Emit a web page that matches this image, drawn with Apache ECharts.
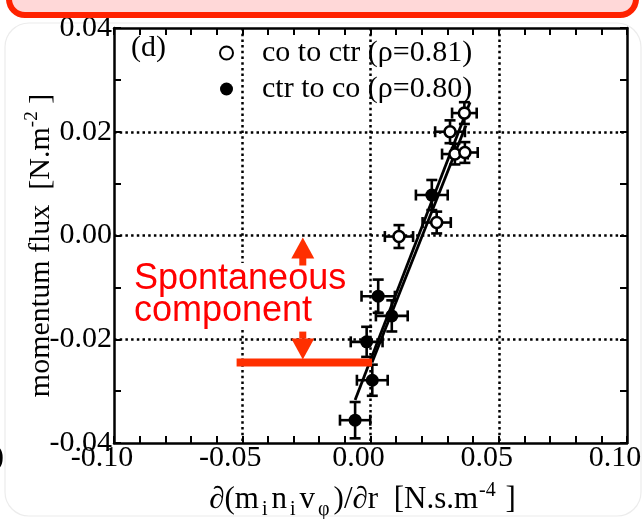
<!DOCTYPE html>
<html>
<head>
<meta charset="utf-8">
<script src="https://cdn.jsdelivr.net/npm/echarts/dist/echarts.min.js"></script>
<style>
  html, body { margin: 0; padding: 0; background: #fff; }
  #chart { width: 643px; height: 519px; }
</style>
</head>
<body>
<div id="chart"></div>
<script>
// ---- data ----
const seriesNames = ['co to ctr (\u03c1=0.81)', 'ctr to co (\u03c1=0.80)'];

// open circles: co to ctr
const coToCtrX    = [0.0366, 0.0310, 0.0329, 0.0368, 0.0258, 0.0111];
const coToCtrY    = [0.0236, 0.0200, 0.0157, 0.0160, 0.0025, -0.0002];
const coToCtrXErr = [0.0048, 0.0058, 0.0050, 0.0050, 0.0055, 0.0055];
const coToCtrYErr = [0.0021, 0.0022, 0.0020, 0.0020, 0.0021, 0.0022];

// filled circles: ctr to co
const ctrToCoX    = [0.0239, 0.0030, 0.0083, -0.0015, 0.0007, -0.0060];
const ctrToCoY    = [0.0078, -0.0117, -0.0155, -0.0205, -0.0279, -0.0356];
const ctrToCoXErr = [0.0062, 0.0065, 0.0062, 0.0062, 0.0060, 0.0059];
const ctrToCoYErr = [0.0029, 0.0032, 0.0030, 0.0029, 0.0030, 0.0035];

// linear fits (end points)
const fitAX = [-0.0060, 0.0388];
const fitAY = [-0.0317, 0.0257];
const fitBX = [0.0006, 0.0372];
const fitBY = [-0.0245, 0.0212];

// spontaneous component: fit offset at zero gradient
const spontaneousLevel = -0.0245;
const arrowX = -0.0264;
const barStartX = -0.0522;

// axes
const xTickLabels = ['-0.10', '-0.05', '0.00', '0.05', '0.10'];
const yTickLabels = ['-0.04', '-0.02', '0.00', '0.02', '0.04'];

// ---- helpers ----
const serif = "'Liberation Serif', 'Times New Roman', serif";
const sans = "'Liberation Sans', Arial, sans-serif";
const zip = (xs, ys) => xs.map((x, i) => [x, ys[i]]);
const errRows = (xs, ys, ex, ey) => xs.map((x, i) => [x, ys[i], ex[i], ey[i]]);

function renderErrorBar(params, api) {
  const x = api.value(0), y = api.value(1), ex = api.value(2), ey = api.value(3);
  const c = api.coord([x, y]);
  const l = api.coord([x - ex, y])[0];
  const r = api.coord([x + ex, y])[0];
  const t = api.coord([x, y + ey])[1];
  const b = api.coord([x, y - ey])[1];
  const cap = 5.5;
  const st = { stroke: '#000', lineWidth: 2.6 };
  const seg = (x1, y1, x2, y2) => ({ type: 'line', shape: { x1, y1, x2, y2 }, style: st });
  return {
    type: 'group',
    children: [
      seg(l, c[1], r, c[1]),
      seg(l, c[1] - cap, l, c[1] + cap),
      seg(r, c[1] - cap, r, c[1] + cap),
      seg(c[0], t, c[0], b),
      seg(c[0] - cap, t, c[0] + cap, t),
      seg(c[0] - cap, b, c[0] + cap, b)
    ]
  };
}

const frameAxisLine = { show: true, onZero: false, lineStyle: { color: '#000', width: 2.5 } };
const inTick = { show: true, inside: true, length: 7, lineStyle: { color: '#000', width: 2 } };
const inMinor = { show: true, splitNumber: 5, length: 7, lineStyle: { color: '#000', width: 2 } };
const dotted = {
  show: true, showMinLine: false, showMaxLine: false,
  lineStyle: { color: '#000', width: 2.5, type: [2.5, 3.2] }
};
const tickFont = { fontFamily: serif, fontSize: 30, color: '#000' };

const chart = echarts.init(document.getElementById('chart'), null, { renderer: 'canvas' });

const option = {
  animation: false,
  backgroundColor: '#fff',
  grid: { left: 114, right: 16, top: 28, bottom: 76, containLabel: false, outerBoundsMode: 'none' },
  xAxis: [
    {
      type: 'value', min: -0.1, max: 0.1, interval: 0.05, position: 'bottom',
      axisLine: frameAxisLine, axisTick: inTick,
      minorTick: Object.assign({}, inMinor),
      splitLine: dotted,
      axisLabel: Object.assign({
        margin: 2, lineHeight: 26, padding: [0, 24, 0, 0],
        formatter: v => xTickLabels[Math.round((v + 0.1) / 0.05)]
      }, tickFont),
      name: '{n|\u2202(m}{s|i}{n|n}{s|i}{n|v}{s|\u03c6}{n|)/\u2202r  [N.s.m}{p|-4}{n| ]}',
      nameLocation: 'middle', nameGap: 37, nameMoveOverlap: false,
      nameTextStyle: {
        padding: [0, 16, 0, 0],
        rich: {
          n: { fontFamily: serif, fontSize: 31, color: '#000' },
          s: { fontFamily: serif, fontSize: 20, color: '#000', padding: [20, 4, 0, 3] },
          p: { fontFamily: serif, fontSize: 20, color: '#000', padding: [0, 2, 18, 1] }
        }
      }
    },
    {
      type: 'value', min: -0.1, max: 0.1, interval: 0.05, position: 'top',
      axisLine: frameAxisLine, axisTick: inTick,
      minorTick: Object.assign({}, inMinor),
      splitLine: { show: false }, axisLabel: { show: false }
    }
  ],
  yAxis: [
    {
      type: 'value', min: -0.04, max: 0.04, interval: 0.02, position: 'left',
      axisLine: frameAxisLine, axisTick: inTick,
      minorTick: Object.assign({}, inMinor, { splitNumber: 2 }),
      splitLine: dotted,
      axisLabel: Object.assign({
        margin: 2,
        formatter: v => yTickLabels[Math.round((v + 0.04) / 0.02)]
      }, tickFont),
      name: '{n|momentum flux  [N.m}{p|-2}{n| ]}',
      nameLocation: 'middle', nameRotate: 90, nameGap: 54, nameMoveOverlap: false,
      nameTextStyle: {
        padding: [0, 20, 0, 0],
        rich: {
          n: { fontFamily: serif, fontSize: 30, color: '#000' },
          p: { fontFamily: serif, fontSize: 19, color: '#000', padding: [0, 0, 18, 0] }
        }
      }
    },
    {
      type: 'value', min: -0.04, max: 0.04, interval: 0.02, position: 'right',
      axisLine: frameAxisLine, axisTick: inTick,
      minorTick: Object.assign({}, inMinor, { splitNumber: 2 }),
      splitLine: { show: false }, axisLabel: { show: false }
    }
  ],
  legend: {
    data: seriesNames,
    orient: 'vertical',
    left: 214, top: 33,
    itemWidth: 13, itemHeight: 13,
    itemGap: 6,
    textStyle: { fontFamily: serif, fontSize: 30, color: '#000', padding: [0, 0, 0, 24] }
  },
  series: [
    {
      type: 'line', data: zip(fitAX, fitAY), showSymbol: false, silent: true,
      lineStyle: { color: '#000', width: 2.8 }, z: 3
    },
    {
      type: 'line', data: zip(fitBX, fitBY), showSymbol: false, silent: true,
      lineStyle: { color: '#000', width: 2.8 }, z: 3
    },
    {
      type: 'custom', renderItem: renderErrorBar, z: 4,
      encode: { x: 0, y: 1 },
      data: errRows(coToCtrX, coToCtrY, coToCtrXErr, coToCtrYErr)
    },
    {
      type: 'custom', renderItem: renderErrorBar, z: 4,
      encode: { x: 0, y: 1 },
      data: errRows(ctrToCoX, ctrToCoY, ctrToCoXErr, ctrToCoYErr)
    },
    {
      name: seriesNames[0], type: 'scatter', symbol: 'circle', symbolSize: 11, z: 5,
      itemStyle: { color: '#fff', borderColor: '#000', borderWidth: 2.6, opacity: 1 },
      data: zip(coToCtrX, coToCtrY)
    },
    {
      name: seriesNames[1], type: 'scatter', symbol: 'circle', symbolSize: 13, z: 5,
      itemStyle: { color: '#000', opacity: 1 },
      data: zip(ctrToCoX, ctrToCoY)
    }
  ]
};

chart.setOption(option);

// ---- annotations placed through the grid's coordinate system ----
const px = (x, y) => chart.convertToPixel({ gridIndex: 0 }, [x, y]);
const zeroPt = px(arrowX, 0);
const levelPt = px(arrowX, spontaneousLevel);
const barL = px(barStartX, spontaneousLevel);
const barR = px(fitBX[0], spontaneousLevel);
const ax = zeroPt[0];
const red = '#ff2f00';
const headW = 11.5, headH = 21, shaftW = 3.5;

const graphics = [
  // page panel outline
  {
    type: 'rect', silent: true, z: -10,
    shape: { x: 5, y: 23, width: 636, height: 493, r: 24 },
    style: { fill: null, stroke: '#ececec', lineWidth: 1.2 }
  },
  // header banner
  {
    type: 'rect', silent: true, z: 10,
    shape: { x: 9, y: -30, width: 627, height: 45, r: 16 },
    style: { fill: '#ffd8d8', stroke: '#ff2200', lineWidth: 6 }
  },
  // panel tag
  {
    type: 'text', silent: true, z: 10, x: 131, y: 48,
    style: { text: '(d)', font: '30px ' + serif, fill: '#000', verticalAlign: 'middle' }
  },
  // neighbouring panel edge
  {
    type: 'text', silent: true, z: 10, x: -6, y: 457,
    style: { text: ')', font: '30px ' + serif, fill: '#000', verticalAlign: 'middle' }
  },
  // label
  {
    type: 'text', silent: true, z: 8, x: 134, y: 263,
    style: {
      text: 'Spontaneous\ncomponent', font: '36px ' + sans, fill: '#ff0000',
      lineHeight: 32, backgroundColor: '#fff', verticalAlign: 'top'
    }
  },
  // up arrow (towards zero flux)
  {
    type: 'polygon', silent: true, z: 9,
    shape: { points: [[ax, zeroPt[1] + 2], [ax + headW, zeroPt[1] + 2 + headH], [ax - headW, zeroPt[1] + 2 + headH]] },
    style: { fill: red }
  },
  {
    type: 'rect', silent: true, z: 9,
    shape: { x: ax - shaftW, y: zeroPt[1] + 1 + headH, width: shaftW * 2, height: 8 },
    style: { fill: red }
  },
  // down arrow (towards offset level)
  {
    type: 'rect', silent: true, z: 9,
    shape: { x: ax - shaftW, y: levelPt[1] - 4 - headH - 6, width: shaftW * 2, height: 7 },
    style: { fill: red }
  },
  {
    type: 'polygon', silent: true, z: 9,
    shape: { points: [[ax, levelPt[1] - 3], [ax + headW, levelPt[1] - 3 - headH], [ax - headW, levelPt[1] - 3 - headH]] },
    style: { fill: red }
  },
  // offset level bar
  {
    type: 'rect', silent: true, z: 9,
    shape: { x: barL[0], y: barL[1] - 4, width: barR[0] - barL[0], height: 8 },
    style: { fill: red }
  }
];

chart.setOption({ graphic: graphics });
</script>
</body>
</html>
